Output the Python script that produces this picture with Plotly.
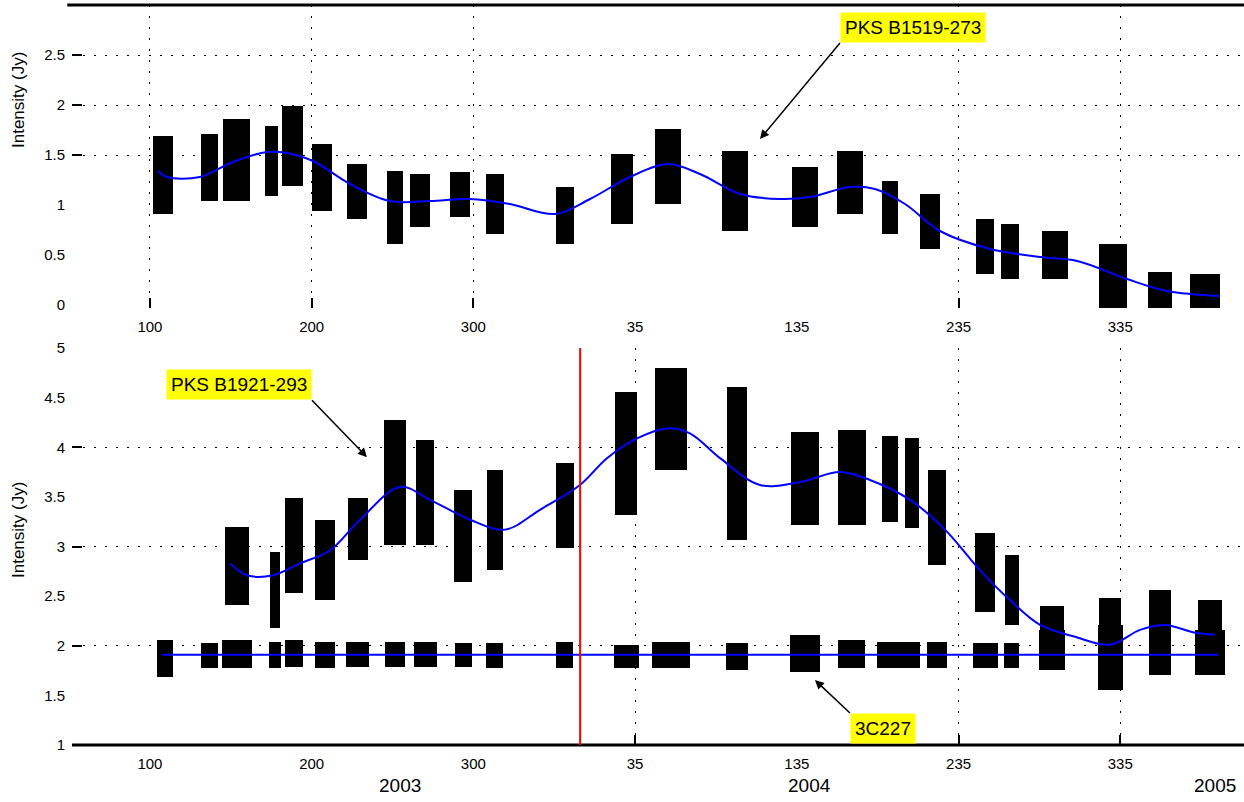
import plotly.graph_objects as go

# ---------------- data ----------------
# x unit: day number counted from 1 Jan 2003 (day 366 = 1 Jan 2004)
tick_days = [100, 200, 300, 400, 500, 600, 700]
tick_text = ["100", "200", "300", "35", "135", "235", "335"]
year_labels = ["2003", "2004", "2005"]
year_label_days = [254.6, 508.1, 758.6]
year_boundary_day = 366

# top panel: PKS B1519-273 sessions (centre day, min, max Jy, session width in days)
top_days = [108.0, 137.1, 153.8, 175.4, 188.4, 206.4, 228.0, 251.5, 266.9, 291.7, 313.3, 356.6, 391.9,
            420.3, 461.8, 505.1, 532.9, 557.6, 582.4, 616.4, 631.8, 659.6, 695.5, 724.6, 752.4]
top_hi = [1.69, 1.71, 1.86, 1.79, 1.99, 1.61, 1.41, 1.34, 1.31, 1.33, 1.31, 1.18, 1.51,
          1.76, 1.54, 1.38, 1.54, 1.24, 1.11, 0.86, 0.81, 0.74, 0.61, 0.33, 0.31]
top_lo = [0.91, 1.04, 1.04, 1.09, 1.19, 0.94, 0.86, 0.61, 0.78, 0.88, 0.71, 0.61, 0.81,
          1.01, 0.74, 0.78, 0.91, 0.71, 0.56, 0.31, 0.26, 0.26, -0.04, -0.06, -0.06]
top_w = [12.4, 10.5, 16.7, 8.0, 13.0, 12.0, 12.0, 10.0, 12.0, 12.0, 11.0, 11.0, 14.0,
         16.0, 16.0, 16.0, 16.0, 10.0, 12.0, 11.0, 11.0, 16.0, 17.0, 15.0, 19.0]
top_curve_days = [104.9, 110.5, 130.9, 151.3, 172.4, 184.7, 200.8, 223.7, 248.4, 273.2, 297.9, 322.6,
                  350.5, 372.1, 396.8, 420.3, 440.1, 464.9, 489.6, 508.1, 532.9, 548.3, 566.9, 588.5,
                  619.5, 650.4, 673.3, 704.2, 728.9, 761.7]
top_curve_vals = [1.34, 1.28, 1.28, 1.43, 1.53, 1.52, 1.44, 1.21, 1.04, 1.04, 1.06, 1.01,
                  0.91, 1.06, 1.28, 1.41, 1.31, 1.11, 1.06, 1.08, 1.18, 1.16, 1.01, 0.74,
                  0.56, 0.48, 0.44, 0.26, 0.14, 0.09]

# bottom panel: PKS B1921-293 sessions
b_days = [153.8, 177.3, 189.0, 208.2, 228.6, 251.5, 270.1, 293.6, 313.3, 356.6, 394.4, 422.2,
          463.0, 505.1, 534.1, 557.6, 571.2, 586.7, 616.4, 633.0, 657.8, 693.7, 724.6, 755.5]
b_hi = [3.20, 2.94, 3.49, 3.27, 3.49, 4.27, 4.07, 3.57, 3.77, 3.84, 4.56, 4.80,
        4.61, 4.15, 4.17, 4.11, 4.09, 3.77, 3.14, 2.91, 2.40, 2.48, 2.56, 2.46]
b_lo = [2.41, 2.18, 2.53, 2.46, 2.86, 3.02, 3.02, 2.64, 2.76, 2.98, 3.32, 3.77,
        3.07, 3.22, 3.22, 3.25, 3.19, 2.81, 2.34, 2.21, 1.78, 1.55, 1.74, 1.71]
b_w = [14.8, 6.2, 11.1, 12.4, 12.4, 13.6, 11.1, 11.1, 9.9, 11.1, 13.6, 19.8,
       12.4, 17.3, 17.3, 9.9, 8.7, 11.1, 12.4, 8.7, 14.8, 13.6, 13.6, 14.8]
b_curve_days = [149.5, 160.0, 176.1, 192.8, 211.3, 229.9, 254.6, 273.2, 297.9, 319.5, 341.2, 365.9,
                382.6, 401.2, 419.7, 433.9, 452.5, 477.2, 502.0, 526.7, 545.2, 570.0, 591.6, 613.3,
                631.8, 650.4, 672.0, 693.7, 712.2, 727.7, 746.2, 758.6]
b_curve_vals = [2.83, 2.71, 2.71, 2.83, 2.96, 3.27, 3.60, 3.47, 3.27, 3.17, 3.37, 3.62,
                3.89, 4.09, 4.19, 4.14, 3.89, 3.62, 3.65, 3.75, 3.67, 3.47, 3.17, 2.76,
                2.46, 2.21, 2.09, 2.01, 2.16, 2.21, 2.13, 2.11]

# bottom panel: 3C227 sessions
c_days = [109.3, 137.1, 153.8, 177.3, 189.0, 208.2, 228.6, 251.5, 270.1, 293.6, 313.3, 356.6, 394.4,
          422.2, 463.0, 505.1, 534.1, 557.6, 571.2, 586.7, 616.4, 633.0, 657.8, 693.7, 724.6, 755.5]
c_hi = [2.06, 2.03, 2.06, 2.04, 2.06, 2.04, 2.04, 2.04, 2.04, 2.03, 2.03, 2.04, 2.01,
        2.04, 2.03, 2.11, 2.06, 2.04, 2.04, 2.04, 2.03, 2.03, 2.16, 2.21, 2.18, 2.16]
c_lo = [1.69, 1.78, 1.78, 1.78, 1.79, 1.78, 1.79, 1.79, 1.79, 1.79, 1.78, 1.78, 1.78,
        1.78, 1.76, 1.74, 1.78, 1.78, 1.78, 1.78, 1.78, 1.78, 1.76, 1.55, 1.71, 1.71]
c_w = [10.5, 10.5, 18.5, 7.4, 11.1, 12.4, 14.2, 12.4, 14.2, 10.5, 10.5, 10.5, 15.5,
       23.5, 14.2, 18.5, 16.7, 15.5, 10.5, 12.4, 15.5, 9.3, 16.1, 15.5, 13.6, 18.5]
c_curve_days = [107.4, 760.5]
c_curve_vals = [1.91, 1.91]

top_yticks = [0, 0.5, 1, 1.5, 2, 2.5]
top_ygrid = [1.5, 2, 2.5]
bot_yticks = [1, 1.5, 2, 2.5, 3, 3.5, 4, 4.5, 5]
bot_ygrid = [2, 3, 4]
top_xgrid = [100, 200, 300, 600, 700]
bot_xgrid = [400, 600, 700]

# ---------------- figure ----------------
W, H = 1244, 802
L = 72
FONT = "Liberation Sans, Arial, sans-serif"
fig = go.Figure()


def add_sessions(days, lo, hi, w, xa, ya):
    fig.add_trace(go.Bar(
        x=days, base=lo, y=[h - l for h, l in zip(hi, lo)], width=w,
        marker=dict(color="black", line=dict(width=0)),
        xaxis=xa, yaxis=ya, showlegend=False, hoverinfo="skip"))


def add_curve(days, vals, xa, ya, shape="spline"):
    fig.add_trace(go.Scatter(
        x=days, y=vals, mode="lines", line=dict(color="#0000ff", width=2, shape=shape),
        xaxis=xa, yaxis=ya, showlegend=False, hoverinfo="skip"))


add_sessions(top_days, top_lo, top_hi, top_w, "x", "y")
add_curve(top_curve_days, top_curve_vals, "x", "y")
add_sessions(b_days, b_lo, b_hi, b_w, "x2", "y2")
add_sessions(c_days, c_lo, c_hi, c_w, "x2", "y2")
add_curve(b_curve_days, b_curve_vals, "x2", "y2")
add_curve(c_curve_days, c_curve_vals, "x2", "y2", shape="linear")

GRID = dict(showgrid=True, gridcolor="black", gridwidth=1, griddash="2px,9px",
            ticks="inside", ticklen=10, tickwidth=1.5, tickcolor="black")

top_dom = [1 - 308 / H, 1 - 5 / H]
bot_dom = [1 - 745 / H, 1 - 348 / H]
xr = [51.8, 776.5]

xcommon = dict(range=xr, tickmode="array", tickvals=tick_days, ticktext=tick_text, ticks="",
               showgrid=False, zeroline=False, showline=False, tickfont=dict(size=15, color="black"),
               automargin=False, ticklabelstandoff=8)

fig.update_layout(
    width=W, height=H, margin=dict(l=L, r=0, t=0, b=0),
    paper_bgcolor="white", plot_bgcolor="white",
    font=dict(family=FONT, color="black"),
    barmode="overlay", bargap=0, showlegend=False,
    xaxis=dict(**xcommon, domain=[0, 1], anchor="y",
               minor=dict(tickmode="array", tickvals=top_xgrid, **GRID)),
    yaxis=dict(domain=top_dom, range=[-0.03, 3.0], tickmode="array", tickvals=top_yticks,
               ticks="", showgrid=False, zeroline=False, showline=False, anchor="x",
               tickfont=dict(size=15, color="black"), automargin=False, ticklabelstandoff=6,
               minor=dict(tickmode="array", tickvals=top_ygrid, **GRID)),
    xaxis2=dict(**xcommon, domain=[0, 1], anchor="y2", mirror="ticks",
                minor=dict(tickmode="array", tickvals=bot_xgrid, **GRID)),
    yaxis2=dict(domain=bot_dom, range=[1, 5], tickmode="array", tickvals=bot_yticks,
                ticks="", showgrid=False, zeroline=False, showline=False, anchor="x2",
                tickfont=dict(size=15, color="black"), automargin=False, ticklabelstandoff=6,
                minor=dict(tickmode="array", tickvals=bot_ygrid, **GRID)),
)

shapes = [
    dict(type="line", xref="paper", yref="paper", x0=-0.004, x1=1, y0=top_dom[1], y1=top_dom[1],
         line=dict(color="black", width=3)),
    dict(type="line", xref="paper", yref="paper", x0=0, x1=1, y0=bot_dom[0], y1=bot_dom[0],
         line=dict(color="black", width=3)),
    dict(type="line", xref="x2", yref="y2 domain", x0=year_boundary_day, x1=year_boundary_day,
         y0=0, y1=1, line=dict(color="red", width=2)),
]
fig.update_layout(shapes=shapes)

ann = []
# y-axis titles
for ypix in (100, 530):
    ann.append(dict(text="Intensity (Jy)", xref="paper", yref="paper", x=(18 - L) / (W - L),
                    y=1 - ypix / H, showarrow=False, textangle=-90, font=dict(size=17),
                    xanchor="center", yanchor="middle"))
# year labels
for lab, d in zip(year_labels, year_label_days):
    ann.append(dict(text=lab, xref="x2", yref="paper", x=d, y=1 - 785 / H, showarrow=False,
                    font=dict(size=19), xanchor="center", yanchor="middle"))
# source labels with arrows
box = dict(showarrow=True, arrowhead=2, arrowsize=1.2, arrowwidth=1.5, arrowcolor="black",
           bgcolor="#ffff00", borderpad=4, font=dict(size=19, color="black"))
ann.append(dict(text="PKS B1519-273", xref="x", yref="y", x=477.2, y=1.66, ax=80, ay=-96,
                xanchor="left", yanchor="bottom", **box))
ann.append(dict(text="PKS B1921-293", xref="x2", yref="y2", x=234.2, y=3.90, ax=-55, ay=-57,
                xanchor="right", yanchor="bottom", **box))
ann.append(dict(text="3C227", xref="x2", yref="y2", x=511.2, y=1.655, ax=35, ay=33,
                xanchor="left", yanchor="top", **box))
fig.update_layout(annotations=ann)

fig.write_html("out.html", config={"displayModeBar": False},
               post_script="document.body.style.margin='0';document.body.style.overflow='hidden';")
